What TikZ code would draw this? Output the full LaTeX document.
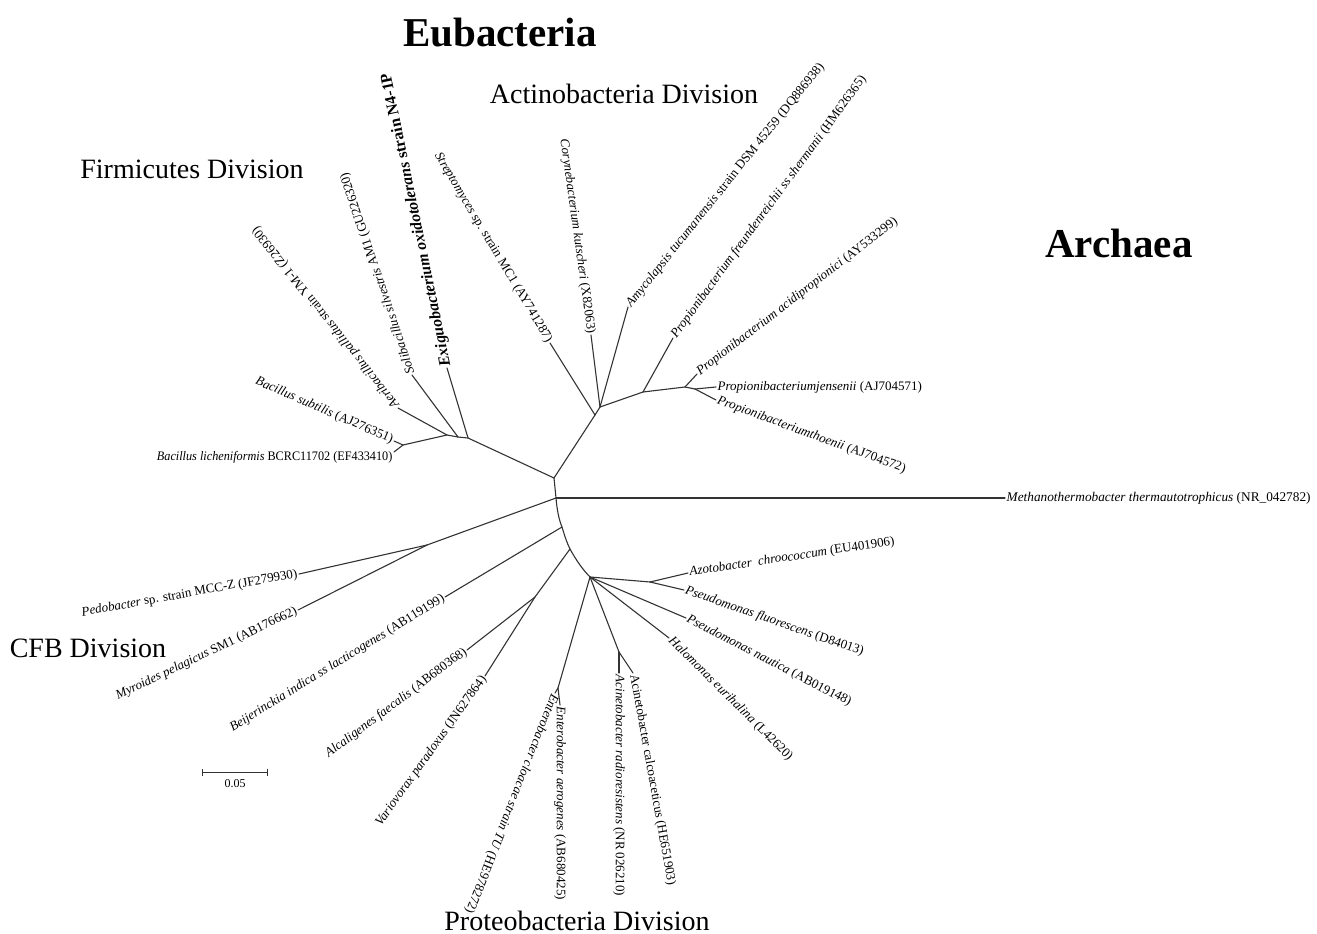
\documentclass[tikz,border=0pt]{standalone}
\usepackage{fontspec}
\setmainfont{Liberation Serif}
\usetikzlibrary{arrows.meta}

\begin{document}
\begin{tikzpicture}[x=1pt,y=-1pt,
  branch/.style={line width=1.1pt,black!80,line cap=round,line join=round},
  leaf/.style={font=\fontsize{13}{15}\selectfont,inner sep=1.5pt},
  clade/.style={font=\fontsize{28}{32}\selectfont,anchor=base},
  kingdom/.style={font=\fontsize{41}{46}\selectfont\bfseries,anchor=base}]
  \useasboundingbox (0,0) rectangle (1317,934);

  % tree nodes and tips
  \foreach \n/\x/\y in {A/554/478, B/556/498,
      F1/468/438, F2/458/437, F3/447/435, F4/403/445,
      exig/447/368, soli/412/375, aeri/398/408, bsub/394/441, blic/394/452,
      Ac1/595/415, Ac2/600/407, strep/550/343, cory/591/335, amyc/628/307,
      P1/643/392, pfre/673/338, P2/685/387, paci/697/374, P3/695/389,
      pjen/716/387, ptho/716/400, meth/1005/498,
      C1/427/545, pedo/299/574, myro/298/610,
      K1/562/527, K2/570/549, beij/445/597, AV/535/597, alca/467/650, vari/485/676,
      Pn/590/577, Q1/650/582, azot/688/573, pflu/684/590, pnau/686/618,
      halo/669/638, AC/619/652, arad/619/673, acal/633/673,
      EN/558/688, eclo/555/693, eaer/560/705}
    \coordinate (\n) at (\x,\y);

  \draw[branch] (A) -- (B) .. controls (557,510) and (559,520) .. (K1)
    .. controls (565,537) and (567,543) .. (K2) .. controls (576,560) and (583,570) .. (Pn);
  \foreach \a/\b in {A/F1, F1/F2, F2/F3, F3/F4, F1/exig, F2/soli, F3/aeri, F4/bsub, F4/blic,
      A/Ac1, Ac1/strep, Ac1/Ac2, Ac2/cory, Ac2/amyc, Ac2/P1, P1/pfre, P1/P2, P2/paci,
      P2/P3, P3/pjen, P3/ptho, B/meth, B/C1, C1/pedo, C1/myro,
      K1/beij, K2/AV, AV/alca, AV/vari, Pn/Q1, Q1/azot, Q1/pflu, Pn/pnau, Pn/halo,
      Pn/AC, AC/arad, AC/acal, Pn/EN, EN/eclo, EN/eaer}
    \draw[branch] (\a) -- (\b);

  % Firmicutes
  \node[leaf,anchor=east,yshift=-5pt,xscale=0.94] (tBlic) at (blic) {\textit{Bacillus licheniformis} BCRC11702 (EF433410)};
  \node[leaf,anchor=east,rotate=-23.5] (tBsub) at (bsub) {\textit{Bacillus subtilis} (AJ276351)};
  \node[leaf,anchor=west,rotate=128.5] (tAeri) at (aeri) {\textit{Aeribacillus pallidus} strain YM-1 (Z26930)};
  \node[leaf,anchor=west,rotate=108.5] (tSoli) at (soli) {\textit{Solibacillus silvestris} AM1 (GU226320)};
  \node[leaf,anchor=west,rotate=101.6,font=\fontsize{16}{18}\selectfont\bfseries] (tExig) at (exig)
    {\textit{Exiguobacterium oxidotolerans} strain N4-1P};

  % Actinobacteria
  \node[leaf,anchor=east,rotate=-59.2] (tStrep) at (strep) {\textit{Streptomyces} sp. strain MC1 (AY741287)};
  \node[leaf,anchor=east,rotate=-82] (tCory) at (cory) {\textit{Corynebacterium kutscheri} (X82063)};
  \node[leaf,anchor=west,rotate=51.3] (tAmyc) at (amyc) {\textit{Amycolapsis tucumanensis} strain DSM 45259 (DQ886938)};
  \node[leaf,anchor=west,rotate=53.8] (tPfre) at (pfre) {\textit{Propionibacterium freundenreichii ss shermanii} (HM626365)};
  \node[leaf,anchor=west,rotate=37.6] (tPaci) at (paci) {\textit{Propionibacterium acidipropionici} (AY533299)};
  \node[leaf,anchor=west] (tPjen) at (pjen) {\textit{Propionibacteriumjensenii} (AJ704571)};
  \node[leaf,anchor=west,rotate=-20.2] (tPtho) at (ptho) {\textit{Propionibacteriumthoenii} (AJ704572)};

  % Archaea
  \node[leaf,anchor=west,font=\fontsize{13.3}{15}\selectfont] (tMeth) at (meth) {\textit{Methanothermobacter thermautotrophicus} (NR\_042782)};

  % CFB
  \node[leaf,anchor=east,rotate=10.2] (tPedo) at (pedo) {\textit{Pedobacter} sp. strain MCC-Z (JF279930)};
  \node[leaf,anchor=east,rotate=25.6] (tMyro) at (myro) {\textit{Myroides pelagicus} SM1 (AB176662)};

  % Proteobacteria
  \node[leaf,anchor=east,rotate=31.6] (tBeij) at (beij) {\textit{Beijerinckia indica ss lacticogenes} (AB119199)};
  \node[leaf,anchor=east,rotate=36.9] (tAlca) at (alca) {\textit{Alcaligenes faecalis} (AB680368)};
  \node[leaf,anchor=east,rotate=54.4] (tVari) at (vari) {\textit{Variovorax paradoxus} (JN627864)};
  \node[leaf,anchor=west,rotate=-111.5] (tEclo) at (eclo) {\textit{Enterobacter cloacae strain TU} (HE978272)};
  \node[leaf,anchor=west,rotate=-90] (tEaer) at (eaer) {\textit{Enterobacter aerogenes} (AB680425)};
  \node[leaf,anchor=west,rotate=-90] (tArad) at (arad) {\textit{Acinetobacter radioresistens} (NR 026210)};
  \node[leaf,anchor=west,rotate=-79.8] (tAcal) at (acal) {Acinetobacter calcoaceticus (HE651903)};
  \node[leaf,anchor=west,rotate=-44.8] (tHalo) at (halo) {\textit{Halomonas eurihalina} (L42620)};
  \node[leaf,anchor=west,rotate=-27.4] (tPnau) at (pnau) {\textit{Pseudomonas nautica} (AB019148)};
  \node[leaf,anchor=west,rotate=-19.2] (tPflu) at (pflu) {\textit{Pseudomonas fluorescens} (D84013)};
  \node[leaf,anchor=west,rotate=8.6] (tAzot) at (azot) {\textit{Azotobacter\ \ chroococcum} (EU401906)};

  % group titles
  \node[kingdom] (eub) at (500,47) {Eubacteria};
  \node[kingdom] (arc) at (1119,257) {Archaea};
  \node[clade] (actdiv) at (624,103) {Actinobacteria Division};
  \node[clade] (firdiv) at (192,178) {Firmicutes Division};
  \node[clade] (cfbdiv) at (88,657) {CFB Division};
  \node[clade] (prodiv) at (577,930) {Proteobacteria Division};

  % scale bar
  \coordinate (s1) at (202,772);
  \coordinate (s2) at (268,772);
  \draw[branch,line width=0.9pt,{Bar[width=7pt]}-{Bar[width=7pt]}] (s1) -- (s2);
  \node[leaf,font=\fontsize{12}{14}\selectfont] (sval) at (235,784) {0.05};
\end{tikzpicture}
\end{document}
